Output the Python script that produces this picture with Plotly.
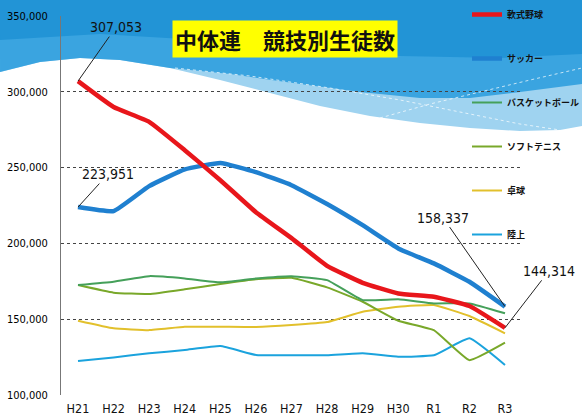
import plotly.graph_objects as go

categories = ["H21", "H22", "H23", "H24", "H25", "H26", "H27", "H28", "H29", "H30", "R1", "R2", "R3"]

baseball = [307053, 290000, 280200, 261500, 241700, 220600, 203500, 185200, 174000, 167000, 164800, 158700, 144314]
soccer = [223951, 221300, 237800, 248800, 253100, 247000, 238400, 226000, 212000, 196700, 186800, 174700, 158337]
basketball = [172500, 174700, 178400, 176900, 174300, 176900, 178400, 175800, 162600, 163100, 160400, 160400, 153900]
soft_tennis = [172500, 167500, 166600, 169700, 173200, 176300, 177300, 171000, 161500, 149000, 142800, 123000, 134500]
table_tennis = [149000, 144000, 142800, 145000, 145000, 144800, 146100, 148100, 154900, 158200, 159300, 152100, 140700]
athletics = [122400, 124800, 127500, 129700, 132300, 126400, 126200, 126200, 127500, 125300, 126200, 137400, 119800]

series_names = ["軟式野球", "サッカー", "バスケットボール", "ソフトテニス", "卓球", "陸上"]
y_ticks = [100000, 150000, 200000, 250000, 300000, 350000]
title_text = "中体連　競技別生徒数"

W, H = 582, 416
L, R, T, B = 61, 59, 16, 21
PW, PH = W - L - R, H - T - B


def px2paper(x, y):
    return (x - L) / PW, (H - B - y) / PH


def path_from(points, close=True):
    pts = [px2paper(x, y) for x, y in points]
    s = "M" + " L".join(f"{a:.4f},{b:.4f}" for a, b in pts)
    return s + (" Z" if close else "")


NARROW = "Liberation Sans Narrow, Arial Narrow, DejaVu Sans Condensed, sans-serif"
JP = "Noto Sans CJK JP, sans-serif"

fig = go.Figure()

specs = [
    (athletics, series_names[5], "#1ba3dd", 2, 6),
    (table_tennis, series_names[4], "#e2c02c", 2, 5),
    (soft_tennis, series_names[3], "#79a82a", 2, 4),
    (basketball, series_names[2], "#45a05a", 2, 3),
    (soccer, series_names[1], "#1f80d0", 4.5, 2),
    (baseball, series_names[0], "#e8161b", 4.5, 1),
]
for vals, name, color, width, rank in specs:
    fig.add_trace(go.Scatter(
        x=categories, y=vals, name="<b>" + name + "</b>", mode="lines",
        line=dict(color=color, width=width, shape="spline", smoothing=0.35),
        legendgroup=name, legendrank=rank,
    ))

# background waves
top_curve = [(0, 72), (40, 62), (80, 58), (120, 60), (170, 68), (220, 80), (270, 93),
             (320, 106), (370, 116), (420, 123), (470, 128), (520, 131), (560, 130), (582, 126)]
light_poly = [(0, 0), (582, 0)] + list(reversed(top_curve))
mid_curve = [(0, 72), (40, 62), (80, 58), (120, 60), (170, 68), (230, 74), (300, 84),
             (360, 92), (420, 98), (470, 98), (520, 92), (582, 84)]
mid_poly = [(0, 0), (582, 0)] + list(reversed(mid_curve))
dark_curve = [(0, 40), (100, 34), (200, 40), (300, 48), (400, 56), (500, 58), (582, 54)]
dark_poly = [(0, 0), (582, 0)] + list(reversed(dark_curve))
streak1 = [(175, 68), (250, 76), (330, 88), (400, 100), (460, 112), (520, 124), (560, 130)]
streak2 = [(380, 118), (430, 104), (480, 92), (530, 80), (582, 68)]

shapes = [
    dict(type="path", xref="paper", yref="paper", path=path_from(light_poly),
         fillcolor="#9fd3f0", line=dict(width=0), layer="below"),
    dict(type="path", xref="paper", yref="paper", path=path_from(mid_poly),
         fillcolor="#3aa4e0", line=dict(width=0), layer="below"),
    dict(type="path", xref="paper", yref="paper", path=path_from(dark_poly),
         fillcolor="#2294d6", line=dict(width=0), layer="below"),
    dict(type="path", xref="paper", yref="paper", path=path_from(streak1, close=False),
         line=dict(width=1, color="rgba(255,255,255,0.7)", dash="dot"), layer="below"),
    dict(type="path", xref="paper", yref="paper", path=path_from(streak2, close=False),
         line=dict(width=1, color="rgba(255,255,255,0.7)", dash="dot"), layer="below"),
]

annotations = [
    dict(x=px2paper(285, 0)[0], y=px2paper(0, 39)[1], xref="paper", yref="paper",
         xanchor="center", yanchor="middle", text="<b>" + title_text + "</b>",
         showarrow=False, font=dict(family=JP, size=22, color="#111"), bgcolor="#ffff00", borderpad=2),
    dict(x=categories[0], y=baseball[0], text=f"{baseball[0]:,}", showarrow=True, arrowhead=0,
         arrowwidth=1, arrowcolor="#222", ax=38, ay=-54, font=dict(family=NARROW, size=14, color="#111")),
    dict(x=categories[0], y=soccer[0], text=f"{soccer[0]:,}", showarrow=True, arrowhead=0,
         arrowwidth=1, arrowcolor="#222", ax=30, ay=-33, font=dict(family=NARROW, size=14, color="#111")),
    dict(x=categories[-1], y=soccer[-1], text=f"{soccer[-1]:,}", showarrow=True, arrowhead=0,
         arrowwidth=1, arrowcolor="#222", ax=-62, ay=-89, font=dict(family=NARROW, size=14, color="#111")),
    dict(x=categories[-1], y=baseball[-1], text=f"{baseball[-1]:,}", showarrow=True, arrowhead=0,
         arrowwidth=1, arrowcolor="#222", ax=44, ay=-57, font=dict(family=NARROW, size=14, color="#111")),
]

fig.update_layout(
    width=W, height=H,
    margin=dict(l=L, r=R, t=T, b=B, pad=0, autoexpand=False),
    paper_bgcolor="white", plot_bgcolor="rgba(0,0,0,0)",
    shapes=shapes, annotations=annotations,
    showlegend=True,
    legend=dict(xref="container", yref="container", x=467 / W, y=1.0, xanchor="left", yanchor="top",
                bgcolor="rgba(0,0,0,0)", traceorder="grouped", tracegroupgap=25, maxheight=400,
                font=dict(family=JP, size=9, color="#111"), itemwidth=30),
    xaxis=dict(range=[-0.478, 12.506], showgrid=False, showline=False, zeroline=False,
               tickfont=dict(family=NARROW, size=12.5, color="#111"), ticks="", ticklabelstandoff=4),
    yaxis=dict(range=[100000, 350000], tickvals=y_ticks, ticktext=[f"{v:,}" for v in y_ticks],
               showgrid=True, gridcolor="#444", griddash="dot", gridwidth=1,
               showline=True, linecolor="#777", linewidth=1, zeroline=False,
               tickfont=dict(family=NARROW, size=11, color="#000"), ticks="", ticklabelstandoff=10),
)

fig.write_html("out.html", config={"displayModeBar": False},
               post_script="document.body.style.margin='0';")
